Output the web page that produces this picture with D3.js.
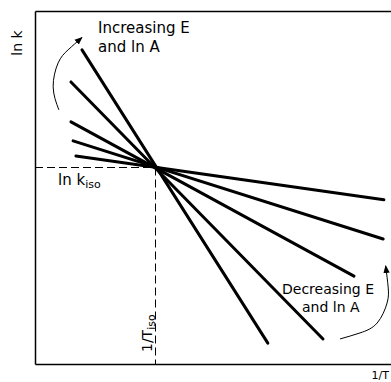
<!DOCTYPE html>
<html><head><meta charset="utf-8">
<script src="https://cdn.jsdelivr.net/npm/d3@7"></script>
<style>html,body{margin:0;padding:0;background:#fff;}svg{display:block;}</style>
</head><body>
<script>
// ---- data (arbitrary units: 1/T on x, ln k on y) ----
const lineNames = ["L1","L2","L3","L4","L5"];
const startX = [1.32, 1.01, 1.01, 1.07, 1.15];
const startY = [8.90, 7.99, 6.86, 6.32, 5.89];
const endX   = [6.54, 8.09, 8.96, 9.78, 9.80];
const endY   = [0.59, 0.71, 2.49, 3.54, 4.65];
const isoX = 3.37, isoY = 5.58;
// curved arrows (guides)
const upArrowX = [0.67, 0.51, 0.65, 0.93, 1.32];
const upArrowY = [7.20, 7.85, 8.53, 8.90, 9.25];
const downArrowX = [8.57, 9.13, 9.61, 9.89, 9.92, 9.85];
const downArrowY = [0.71, 0.88, 1.16, 1.73, 2.18, 2.78];

const W = 391, H = 382;
const svg = d3.select("body").append("svg").attr("width", W).attr("height", H);
const x = d3.scaleLinear().domain([0, 10]).range([35, 391]);
const y = d3.scaleLinear().domain([0, 10]).range([364, 11]);

const defs = svg.append("defs");
defs.append("marker").attr("id","ah").attr("viewBox","0 0 10 10")
  .attr("refX",9).attr("refY",5).attr("markerWidth",8).attr("markerHeight",8)
  .attr("orient","auto").attr("markerUnits","userSpaceOnUse")
  .append("path").attr("d","M0,1L10,5L0,9Z").attr("fill","#000");

// frame / axes
svg.append("g").attr("transform",`translate(0,${y(0)})`)
  .call(d3.axisBottom(x).tickValues([]).tickSizeOuter(0))
  .select(".domain").attr("stroke","#000").attr("stroke-width",1.5);
svg.append("g").attr("transform",`translate(0,${y(10)})`)
  .call(d3.axisTop(x).tickValues([]).tickSizeOuter(0))
  .select(".domain").attr("stroke","#000").attr("stroke-width",1.5);
svg.append("g").attr("transform",`translate(${x(0)},0)`)
  .call(d3.axisLeft(y).tickValues([]).tickSizeOuter(0))
  .select(".domain").attr("stroke","#000").attr("stroke-width",1.5);

// dashed iso guides
const gx = Math.round(x(isoX)) + 0.5, gy = Math.round(y(isoY)) + 0.5;
svg.append("line").attr("x1",x(0)).attr("x2",gx).attr("y1",gy).attr("y2",gy)
  .attr("stroke","#000").attr("stroke-width",1).attr("stroke-dasharray","8,4");
svg.append("line").attr("x1",gx).attr("x2",gx).attr("y1",gy).attr("y2",y(0))
  .attr("stroke","#000").attr("stroke-width",1).attr("stroke-dasharray","8,4");

// Arrhenius lines
svg.append("g").selectAll("line").data(lineNames).join("line")
  .attr("x1",(d,i)=>x(startX[i])).attr("y1",(d,i)=>y(startY[i]))
  .attr("x2",(d,i)=>x(endX[i])).attr("y2",(d,i)=>y(endY[i]))
  .attr("stroke","#000").attr("stroke-width",3).attr("stroke-linecap","round");

// curved arrows
const curve = d3.line().x(d=>x(d[0])).y(d=>y(d[1])).curve(d3.curveNatural);
svg.append("path").attr("d", curve(upArrowX.map((v,i)=>[v, upArrowY[i]])))
  .attr("fill","none").attr("stroke","#000").attr("stroke-width",1).attr("marker-end","url(#ah)");
svg.append("path").attr("d", curve(downArrowX.map((v,i)=>[v, downArrowY[i]])))
  .attr("fill","none").attr("stroke","#000").attr("stroke-width",1).attr("marker-end","url(#ah)");

// texts
const F = "DejaVu Sans, sans-serif";
function txt(px, py, s, size, anchor){
  return svg.append("text").attr("x",px).attr("y",py).attr("font-family",F)
    .attr("font-size",size).attr("text-anchor",anchor||"start").attr("fill","#000").text(s);
}
txt(98, 33, "Increasing E", 15);
txt(98, 52, "and  ln A", 15);
txt(282, 294, "Decreasing E", 14);
txt(302, 312, "and ln A", 14);
txt(389, 379, "1/T", 11, "end");
svg.append("text").attr("transform","translate(22,43) rotate(-90)").attr("font-family",F)
  .attr("font-size",14).attr("text-anchor","middle").text("ln k");
const kiso = svg.append("text").attr("x",58).attr("y",185).attr("font-family",F).attr("font-size",15);
kiso.append("tspan").text("ln k");
kiso.append("tspan").attr("font-size",11).attr("dy",3).text("iso");
const tiso = svg.append("text").attr("transform","translate(152,352) rotate(-90)").attr("font-family",F).attr("font-size",14);
tiso.append("tspan").text("1/T");
tiso.append("tspan").attr("font-size",11).attr("dy",3).text("iso");
</script>
</body></html>
